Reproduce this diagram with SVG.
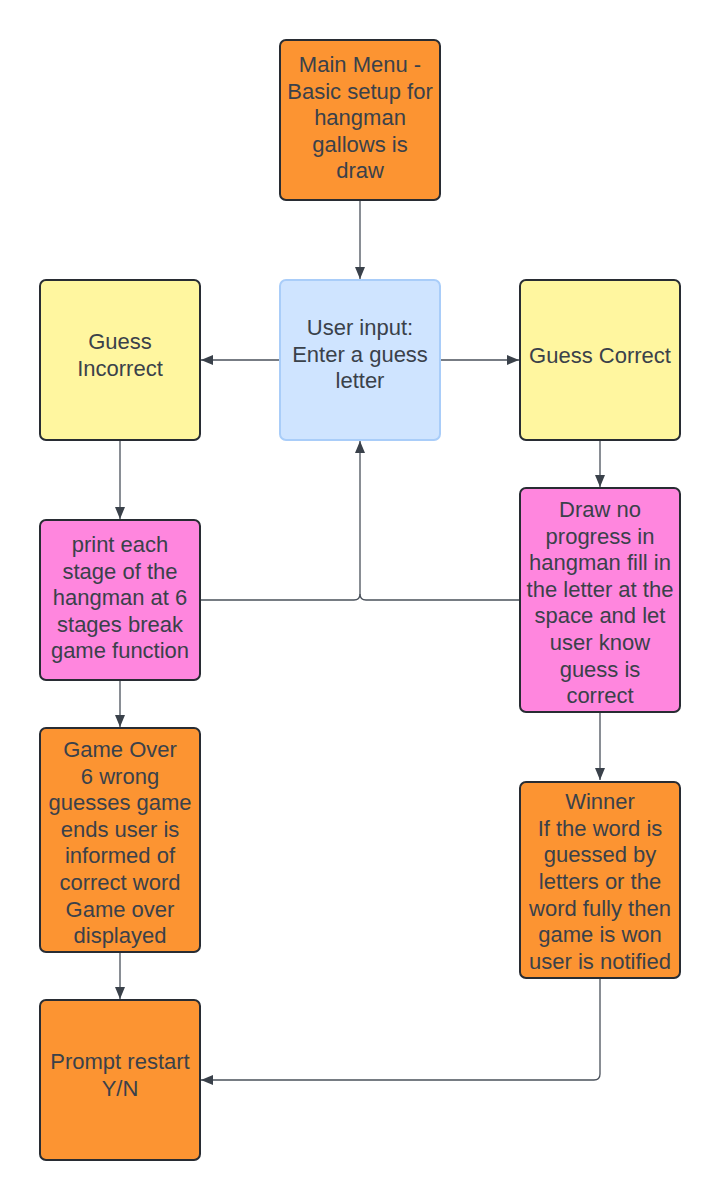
<svg xmlns="http://www.w3.org/2000/svg" width="720" height="1200" viewBox="0 0 720 1200">
<defs>
<marker id="ah" markerUnits="userSpaceOnUse" markerWidth="12" markerHeight="10" refX="12" refY="5" orient="auto">
<path d="M0,0 L12,5 L0,10 z" fill="#3a414a"/>
</marker>
<style>
.box{stroke:#282c33;stroke-width:2}
.orange{fill:#fc9432}
.yellow{fill:#fff69f}
.pink{fill:#ff86de}
.blue{fill:#cfe4ff;stroke:#a9cdf9;stroke-width:2}
text{font-family:"Liberation Sans",Arial,sans-serif;font-size:22px;fill:#3a414a;text-anchor:middle}
.conn{fill:none;stroke:#4a515b;stroke-width:1.3}
</style>
</defs>
<rect width="720" height="1200" fill="#ffffff"/>
<g id="connectors">
<path class="conn" d="M360 200 V279" marker-end="url(#ah)"/>
<path class="conn" d="M280 360 H201" marker-end="url(#ah)"/>
<path class="conn" d="M440 360 H519" marker-end="url(#ah)"/>
<path class="conn" d="M120 440 V519" marker-end="url(#ah)"/>
<path class="conn" d="M600 440 V487" marker-end="url(#ah)"/>
<path class="conn" d="M200 600 H354 Q360 600 360 594 V441" marker-end="url(#ah)"/>
<path class="conn" d="M520 600 H366 Q360 600 360 594"/>
<path class="conn" d="M120 680 V727" marker-end="url(#ah)"/>
<path class="conn" d="M600 712 V780" marker-end="url(#ah)"/>
<path class="conn" d="M120 952 V999" marker-end="url(#ah)"/>
<path class="conn" d="M600 978 V1074 Q600 1080 594 1080 H201" marker-end="url(#ah)"/>
</g>
<g id="main-menu">
<rect class="box orange" x="280" y="40" width="160" height="160" rx="6"/>
<text x="360" y="72">Main Menu -</text>
<text x="360" y="98.5">Basic setup for</text>
<text x="360" y="125">hangman</text>
<text x="360" y="151.5">gallows is</text>
<text x="360" y="178">draw</text>
</g>
<g id="user-input">
<rect class="blue" x="280" y="280" width="160" height="160" rx="6"/>
<text x="360" y="335">User input:</text>
<text x="360" y="361.5">Enter a guess</text>
<text x="360" y="388">letter</text>
</g>
<g id="guess-incorrect">
<rect class="box yellow" x="40" y="280" width="160" height="160" rx="6"/>
<text x="120" y="349">Guess</text>
<text x="120" y="375.5">Incorrect</text>
</g>
<g id="guess-correct">
<rect class="box yellow" x="520" y="280" width="160" height="160" rx="6"/>
<text x="600" y="363">Guess Correct</text>
</g>
<g id="print-stage">
<rect class="box pink" x="40" y="520" width="160" height="160" rx="6"/>
<text x="120" y="552">print each</text>
<text x="120" y="578.5">stage of the</text>
<text x="120" y="605">hangman at 6</text>
<text x="120" y="631.5">stages break</text>
<text x="120" y="658">game function</text>
</g>
<g id="draw-no-progress">
<rect class="box pink" x="520" y="488" width="160" height="224" rx="6"/>
<text x="600" y="517">Draw no</text>
<text x="600" y="543.6">progress in</text>
<text x="600" y="570.2">hangman fill in</text>
<text x="600" y="596.8">the letter at the</text>
<text x="600" y="623.4">space and let</text>
<text x="600" y="650">user know</text>
<text x="600" y="676.6">guess is</text>
<text x="600" y="703">correct</text>
</g>
<g id="game-over">
<rect class="box orange" x="40" y="728" width="160" height="224" rx="6"/>
<text x="120" y="757">Game Over</text>
<text x="120" y="783.6">6 wrong</text>
<text x="120" y="810.2">guesses game</text>
<text x="120" y="836.8">ends user is</text>
<text x="120" y="863.4">informed of</text>
<text x="120" y="890">correct word</text>
<text x="120" y="916.6">Game over</text>
<text x="120" y="943">displayed</text>
</g>
<g id="winner">
<rect class="box orange" x="520" y="782" width="160" height="196" rx="6"/>
<text x="600" y="809">Winner</text>
<text x="600" y="835.7">If the word is</text>
<text x="600" y="862.4">guessed by</text>
<text x="600" y="889">letters or the</text>
<text x="600" y="915.7">word fully then</text>
<text x="600" y="942.4">game is won</text>
<text x="600" y="969">user is notified</text>
</g>
<g id="prompt-restart">
<rect class="box orange" x="40" y="1000" width="160" height="160" rx="6"/>
<text x="120" y="1069">Prompt restart</text>
<text x="120" y="1096">Y/N</text>
</g>
</svg>
